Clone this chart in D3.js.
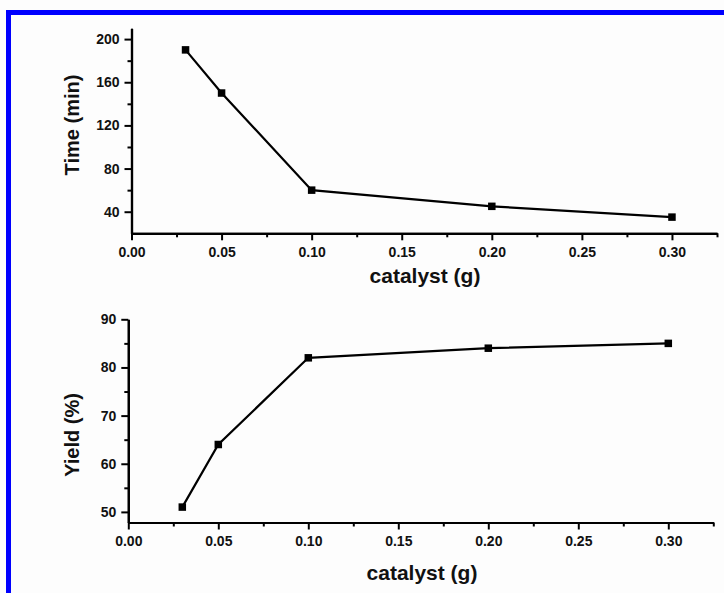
<!DOCTYPE html>
<html>
<head>
<meta charset="utf-8">
<script src="https://cdn.jsdelivr.net/npm/d3@7/dist/d3.min.js"></script>
<style>
  html, body { margin: 0; padding: 0; background: #fdfdfd; }
  svg { display: block; }
  text { font-family: "Liberation Sans", Arial, sans-serif; fill: #111; }
</style>
</head>
<body>
<svg id="chart" width="724" height="593"></svg>
<script>
// ---- data ----
const catalyst = [0.03, 0.05, 0.10, 0.20, 0.30];
const timeMin = [190, 150, 60, 45, 35];
const yieldPct = [51, 64, 82, 84, 85];

const xMajorTicks = [0, 0.05, 0.10, 0.15, 0.20, 0.25, 0.30];
const xMinorTicks = [0.025, 0.075, 0.125, 0.175, 0.225, 0.275, 0.325];
const timeMajorTicks = [40, 80, 120, 160, 200];
const timeMinorTicks = [60, 100, 140, 180];
const yieldMajorTicks = [50, 60, 70, 80, 90];
const yieldMinorTicks = [55, 65, 75, 85];

const xLabel = "catalyst (g)";
const timeLabel = "Time (min)";
const yieldLabel = "Yield (%)";

// ---- drawing ----
const svg = d3.select("#chart");
svg.append("rect").attr("width", 724).attr("height", 593).attr("fill", "#fdfdfd");

// blue frame (left and top)
svg.append("path")
  .attr("d", "M8.5,593 L8.5,12.5 L724,12.5")
  .attr("fill", "none").attr("stroke", "#0000ff").attr("stroke-width", 5);

function panel(cfg) {
  const x = d3.scaleLinear().domain([0, 0.325]).range([cfg.left, cfg.right]);
  const y = d3.scaleLinear().domain(cfg.yDomain).range([cfg.bottom, cfg.top]);
  const g = svg.append("g");

  g.append("g").attr("transform", `translate(0,${cfg.bottom})`)
    .call(d3.axisBottom(x).tickValues(xMajorTicks).tickFormat(d3.format(".2f"))
      .tickSize(7).tickSizeOuter(0).tickPadding(7));
  g.append("g").attr("transform", `translate(0,${cfg.bottom})`)
    .call(d3.axisBottom(x).tickValues(xMinorTicks).tickFormat("")
      .tickSize(4).tickSizeOuter(0));
  g.append("g").attr("transform", `translate(${cfg.left},0)`)
    .call(d3.axisLeft(y).tickValues(cfg.yMajor).tickFormat(d3.format("d"))
      .tickSize(7).tickSizeOuter(0).tickPadding(5));
  g.append("g").attr("transform", `translate(${cfg.left},0)`)
    .call(d3.axisLeft(y).tickValues(cfg.yMinor).tickFormat("")
      .tickSize(4).tickSizeOuter(0));

  g.selectAll(".domain").attr("stroke", "#000").attr("stroke-width", 2.2);
  g.selectAll(".tick line").attr("stroke", "#000").attr("stroke-width", 2);
  g.selectAll(".tick text")
    .style("font-family", '"Liberation Sans", Arial, sans-serif')
    .style("font-weight", "bold").style("font-size", "14px").attr("fill", "#111");

  // axis titles
  g.append("text")
    .attr("x", cfg.xTitleCX)
    .attr("y", cfg.xTitleY)
    .attr("text-anchor", "middle")
    .style("font-weight", "bold").style("font-size", "21px")
    .text(xLabel);
  g.append("text")
    .attr("transform", `translate(${cfg.yTitleX},${cfg.yTitleCY}) rotate(-90)`)
    .attr("text-anchor", "middle")
    .style("font-weight", "bold").style("font-size", "20px")
    .text(cfg.yLabel);

  const line = d3.line().x((d, i) => x(catalyst[i])).y(d => y(d));
  g.append("path").datum(cfg.values)
    .attr("d", line).attr("fill", "none")
    .attr("stroke", "#000").attr("stroke-width", 2.2);

  const s = 7.5;
  g.selectAll("rect.m").data(cfg.values).enter().append("rect")
    .attr("class", "m")
    .attr("x", (d, i) => x(catalyst[i]) - s / 2)
    .attr("y", d => y(d) - s / 2)
    .attr("width", s).attr("height", s)
    .attr("fill", "#000");
}

panel({
  left: 131.5, right: 717, top: 28.3, bottom: 233.3,
  yDomain: [20, 210], yMajor: timeMajorTicks, yMinor: timeMinorTicks,
  values: timeMin, yLabel: timeLabel,
  xTitleCX: 425, xTitleY: 283, yTitleX: 79, yTitleCY: 125
});

panel({
  left: 128.3, right: 713.3, top: 319.3, bottom: 522.5,
  yDomain: [47.8, 90], yMajor: yieldMajorTicks, yMinor: yieldMinorTicks,
  values: yieldPct, yLabel: yieldLabel,
  xTitleCX: 422, xTitleY: 580, yTitleX: 79, yTitleCY: 435
});
</script>
</body>
</html>
